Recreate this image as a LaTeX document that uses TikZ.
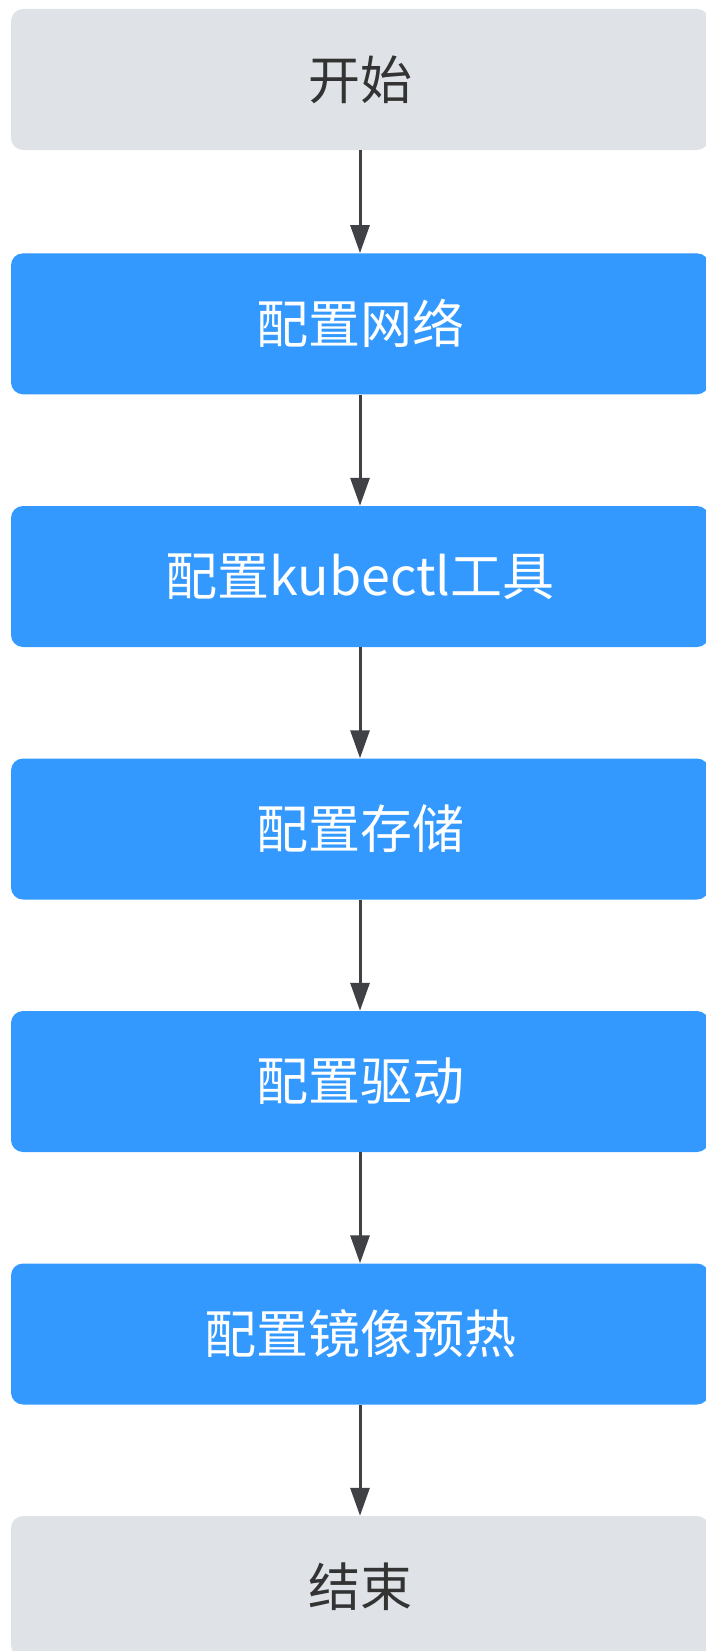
\documentclass[tikz,border=0pt]{standalone}
\usepackage{fontspec}
\newfontfamily\cjk{Noto Sans CJK SC}
\usepackage{xcolor}
\usetikzlibrary{arrows.meta}
\definecolor{stepblue}{HTML}{3399FF}
\definecolor{endgray}{HTML}{DFE3E8}
\definecolor{arrowgray}{HTML}{404145}
\definecolor{textgray}{HTML}{333333}

\begin{document}
\begin{tikzpicture}[x=1pt, y=-1pt,
  box/.style={rounded corners=12pt, minimum width=698pt, minimum height=141pt, inner sep=0pt, font=\cjk\fontsize{52}{62}\selectfont},
  endbox/.style={box, fill=endgray, text=textgray},
  stepbox/.style={box, fill=stepblue, text=white},
  flow/.style={-{Triangle[width=19pt,length=28pt]}, line width=3pt, color=arrowgray}]
\useasboundingbox (0,0) rectangle (705,1651);
%%%%% Boxes %%%%%
\node[endbox] (start) at (360,79.5) {开始};
\node[stepbox] (net) at (360,323.8) {配置网络};
\node[stepbox] (kubectl) at (360,576.5) {配置kubectl工具};
\node[stepbox] (storage) at (360,829) {配置存储};
\node[stepbox] (driver) at (360,1081.5) {配置驱动};
\node[stepbox] (prefetch) at (360,1334) {配置镜像预热};
\node[endbox] (finish) at (360,1586.5) {结束};
%%%%% Arrows %%%%%
\draw[flow] (start) -- (net);
\draw[flow] (net) -- (kubectl);
\draw[flow] (kubectl) -- (storage);
\draw[flow] (storage) -- (driver);
\draw[flow] (driver) -- (prefetch);
\draw[flow] (prefetch) -- (finish);
\end{tikzpicture}
\end{document}
